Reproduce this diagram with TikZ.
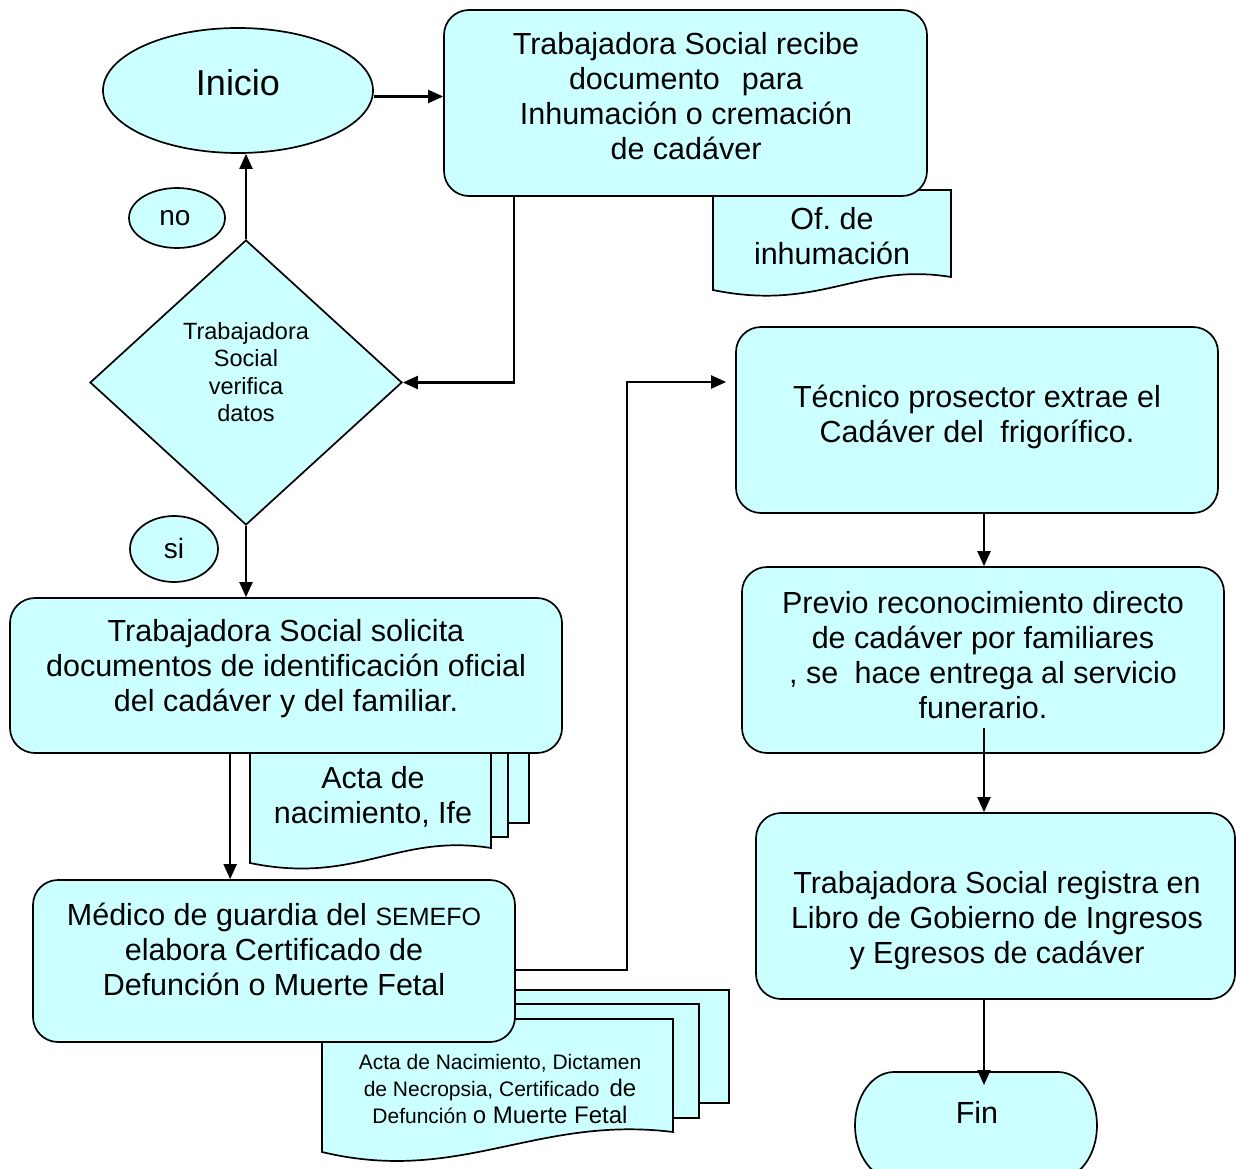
\documentclass[tikz,border=0pt]{standalone}
\usepackage{fontspec}
\setmainfont{Liberation Sans}
\usetikzlibrary{shapes.geometric,arrows.meta,calc}
\definecolor{flowfill}{HTML}{CCFFFF}

\begin{document}
\frenchspacing
\begin{tikzpicture}[x=1pt,y=-1pt,
  line width=1.7pt,
  proc/.style={draw, fill=flowfill, rounded corners=25pt, inner sep=0pt},
  oval/.style={draw, fill=flowfill, ellipse, inner sep=0pt},
  decision/.style={draw, fill=flowfill, diamond, inner sep=0pt},
  doc/.style={draw, fill=flowfill},
  txt/.style={align=center, inner sep=0pt, font=\fontsize{30.5}{35}\selectfont},
  small/.style={align=center, inner sep=0pt, font=\fontsize{23.5}{27.5}\selectfont},
  tiny/.style={align=center, inner sep=0pt, font=\fontsize{21}{27}\selectfont},
  arr/.style={line width=2.1pt, -{Triangle[length=15pt,width=13pt]}}]

\useasboundingbox (0,0) rectangle (1236,1169);
\clip (0,0) rectangle (1236,1169);

% ---- documents (drawn first, partly hidden by the process boxes)
\path[doc] (713,190) -- (951,190) -- (951,277)
  .. controls (860,262) and (820,312) .. (713,290) -- cycle;

\path[doc] (300,745) -- (529,745) -- (529,823) -- (300,823) -- cycle;
\path[doc] (280,748) -- (508,748) -- (508,837) -- (280,837) -- cycle;
\path[doc] (250,750) -- (491,750) -- (491,848)
  .. controls (397,833) and (357,885) .. (250,863) -- cycle;

\path[doc] (380,990) -- (729,990) -- (729,1103) -- (380,1103) -- cycle;
\path[doc] (350,1004) -- (699,1004) -- (699,1118) -- (350,1118) -- cycle;
\path[doc] (322,1019) -- (673,1019) -- (673,1132)
  .. controls (536,1115) and (460,1185) .. (322,1152) -- cycle;

% ---- flow shapes
\node[oval, minimum width=270pt, minimum height=125pt] (inicio) at (238,90.5) {};
\node[oval, minimum width=96pt, minimum height=60pt] (no) at (177,218) {};
\node[oval, minimum width=88pt, minimum height=66pt] (si) at (174,549) {};
\node[decision, minimum width=312pt, minimum height=285pt] (verifica) at (246,382.5) {};

\node[proc, minimum width=483pt, minimum height=186pt] (recibe) at (685.5,103) {};
\node[proc, minimum width=552pt, minimum height=155pt] (solicita) at (286,675.5) {};
\node[proc, minimum width=482pt, minimum height=162pt] (medico) at (274,961) {};
\node[proc, minimum width=482pt, minimum height=186pt] (tecnico) at (977,420) {};
\node[proc, minimum width=482pt, minimum height=186pt] (previo) at (983,660) {};
\node[proc, minimum width=479pt, minimum height=186pt] (registra) at (995.5,906) {};

% terminator with elliptic ends
\path[doc] (894,1072) -- (1058,1072)
  .. controls (1079.5,1072) and (1097,1096) .. (1097,1125.5)
  .. controls (1097,1155) and (1079.5,1179) .. (1058,1179)
  -- (894,1179)
  .. controls (872.5,1179) and (855,1155) .. (855,1125.5)
  .. controls (855,1096) and (872.5,1072) .. (894,1072) -- cycle;
\coordinate (fintop) at (984,1085);

% ---- connectors
\coordinate (a1) at ($(inicio.east)+(0,6)$);
\draw[arr] (a1) -- (a1 -| recibe.west);

\coordinate (b1) at ($(recibe.south west)+(71,0)$);
\draw[arr] (b1) |- (verifica.east);

\draw[arr] (verifica.north) -- (verifica.north |- inicio.south);
\draw[arr] (verifica.south) -- (verifica.south |- solicita.north);

\coordinate (c1) at ($(solicita.south west)+(221,0)$);
\draw[arr] (c1) -- (c1 |- medico.north);

\coordinate (d1) at ($(medico.east)+(0,9)$);
\coordinate (d2) at ($(tecnico.west)+(-9,-38)$);
\coordinate (d3) at ($(d2)+(-99,0)$);
\draw[arr] (d1) -| (d3) -- (d2);

\coordinate (e1) at ($(tecnico.south)+(7,0)$);
\draw[arr] (e1) -- (e1 |- previo.north);

\coordinate (f1) at ($(previo.south)+(1,-26)$);
\draw[arr] (f1) -- (f1 |- registra.north);

\coordinate (g1) at ($(registra.south)+(-11.5,0)$);
\draw[arr] (g1) -- (g1 |- fintop);

% ---- texts
\node[txt, font=\fontsize{36}{40}\selectfont] (tInicio) at (238,83) {Inicio};
\node[txt, font=\fontsize{28}{32}\selectfont] (tNo) at (175,218) {no};
\node[txt, font=\fontsize{28}{32}\selectfont] (tSi) at (174,548) {si};
\node[small] (tVerifica) at (246,372) {Trabajadora\\Social\\verifica\\datos};

\node[txt] (tRecibe) at (686,96.5)
  {Trabajadora Social recibe\\documento\hspace{22pt}para\\Inhumación o cremación\\de cadáver};
\node[txt] (tOf) at (832,236.5) {Of. de\\inhumación};

\node[txt] (tSolicita) at (286,669)
  {Trabajadora Social solicita\\documentos de identificación oficial\\del cadáver y del familiar.};
\node[txt] (tActa) at (373,797) {Acta de\\nacimiento, Ife};

\node[txt] (tMedico) at (274,949)
  {Médico de guardia del {\fontsize{25}{35}\selectfont SEMEFO}\\elabora Certificado de\\Defunción o Muerte Fetal};
\node[tiny] (tActas) at (500,1089)
  {Acta de Nacimiento, Dictamen\\de Necropsia, Certificado\hspace{10pt}{\fontsize{24}{27}\selectfont de}\\Defunción {\fontsize{24}{27}\selectfont o Muerte Fetal}};

\node[txt] (tTecnico) at (977,417)
  {Técnico prosector extrae el\\Cadáver del\hspace{8pt} frigorífico.};
\node[txt] (tPrevio) at (983,655)
  {Previo reconocimiento directo\\de cadáver por familiares\\, se\hspace{8pt} hace entrega al servicio\\funerario.};
\node[txt] (tRegistra) at (997,921)
  {Trabajadora Social registra en\\Libro de Gobierno de Ingresos\\y Egresos de cadáver};
\node[txt] (tFin) at (977,1112) {Fin};
\end{tikzpicture}
\end{document}
